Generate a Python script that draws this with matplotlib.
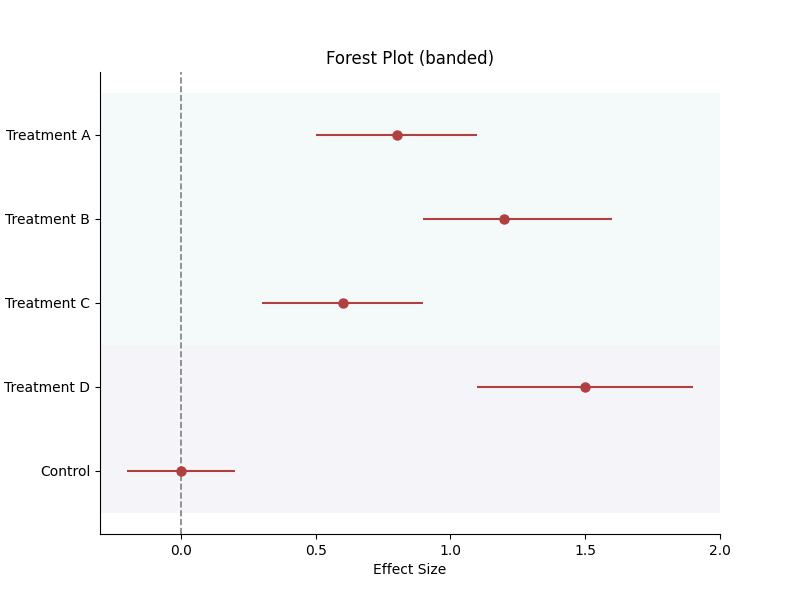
import numpy as np
import matplotlib.pyplot as plt

labels = ["Treatment A", "Treatment B", "Treatment C", "Treatment D", "Control"]
effect = [0.8, 1.2, 0.6, 1.5, 0.0]
ci_low = [0.5, 0.9, 0.3, 1.1, -0.2]
ci_high = [1.1, 1.6, 0.9, 1.9, 0.2]

# bands: (first row, last row, colour)
bands = [(0, 2, "#eef5f7"), (3, 4, "#efedf6")]

fig, ax = plt.subplots(figsize=(8, 6), dpi=100)
y = np.arange(len(labels))

for start, end, col in bands:
    ax.axhspan(start - 0.5, end + 0.5, color=col, alpha=0.6, lw=0, zorder=0)

ax.axvline(0, color="gray", linestyle="--", lw=1.2, zorder=1)

eff = np.array(effect)
err = [eff - np.array(ci_low), np.array(ci_high) - eff]
ax.errorbar(eff, y, xerr=err, fmt="o", color="#b04040", ecolor="#b04040",
            elinewidth=1.5, markersize=6.5, capsize=0, zorder=3)

ax.set_yticks(y)
ax.set_yticklabels(labels)
ax.set_ylim(len(labels) - 0.25, -0.75)
ax.set_xlim(-0.3, 2.0)
ax.set_xlabel("Effect Size")
ax.set_title("Forest Plot (banded)")
ax.spines["top"].set_visible(False)
ax.spines["right"].set_visible(False)

plt.savefig("out.png", dpi=100)
